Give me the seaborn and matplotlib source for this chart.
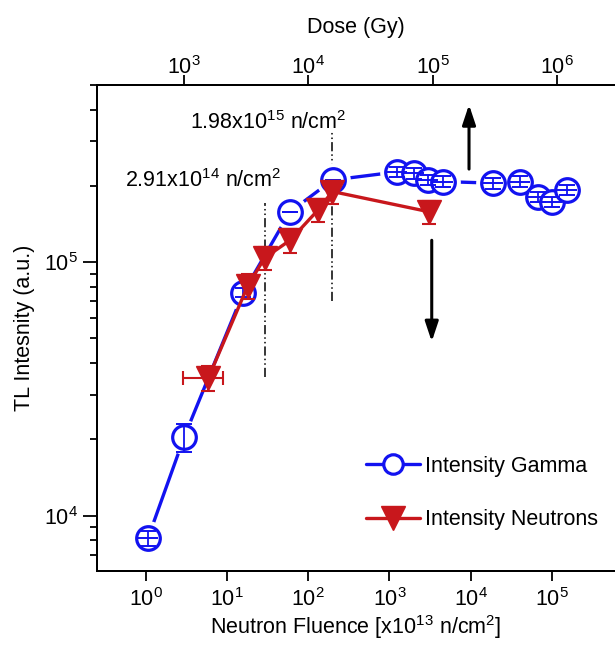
import numpy as np
import pandas as pd
import matplotlib
matplotlib.use("Agg")
import matplotlib.pyplot as plt
import seaborn as sns
from matplotlib.lines import Line2D

# ---------------- data ----------------
gamma_fluence = [1.07, 2.99, 15.9, 59.7, 200, 1227, 2019, 3005, 4596,
                 18950, 40400, 67800, 99200, 151700]
gamma_tl = [8.17e3, 2.05e4, 7.59e4, 1.58e5, 2.11e5, 2.27e5, 2.24e5, 2.11e5,
            2.08e5, 2.05e5, 2.08e5, 1.81e5, 1.73e5, 1.93e5]
gamma_tl_err = [550, 2600, 3000, 0, 0, 1.1e4, 1.1e4, 1.0e4, 1.0e4, 1.0e4,
                1.0e4, 9.0e3, 8.5e3, 9.5e3]

neutron_fluence = [5.9, 18.0, 29.1, 59.7, 133, 198, 3090]
neutron_fluence_err = [3.0, 0, 0, 0, 0, 0, 0]
neutron_tl = [3.49e4, 8.06e4, 1.04e5, 1.22e5, 1.61e5, 1.90e5, 1.58e5]
neutron_tl_err = [4.0e3, 9.0e3, 1.1e4, 1.3e4, 1.7e4, 2.0e4, 1.7e4]

threshold_fluence = [29.1, 198]
threshold_low = [3.54e4, 7.0e4]
threshold_high = [1.71e5, 3.33e5]
threshold_labels = ["2.91x10$^{14}$ n/cm$^{2}$", "1.98x10$^{15}$ n/cm$^{2}$"]

fluence_ticks = [1e0, 1e1, 1e2, 1e3, 1e4, 1e5]
dose_ticks = [1e3, 1e4, 1e5, 1e6]

series_labels = ["Intensity Gamma", "Intensity Neutrons"]
x_label = "Neutron Fluence [x10$^{13}$ n/cm$^{2}$]"
top_label = "Dose (Gy)"
y_label = "TL Intesnity (a.u.)"

BLUE = "#1212F0"
RED = "#C8171C"

# ---------------- style ----------------
sns.set_theme(style="ticks")
plt.rcParams["font.family"] = ["Liberation Sans", "DejaVu Sans"]
plt.rcParams["mathtext.fontset"] = "custom"
plt.rcParams["mathtext.rm"] = "Liberation Sans"
plt.rcParams["mathtext.default"] = "regular"
for k in ["text.color", "axes.labelcolor", "xtick.color", "ytick.color",
          "xtick.labelcolor", "ytick.labelcolor", "axes.edgecolor"]:
    plt.rcParams[k] = "black"
FS = 15.5

fig = plt.figure(figsize=(6.15, 6.47), dpi=100)
ax = fig.add_axes([97 / 615, 1 - 571 / 647, (615 - 97) / 615, (571 - 85) / 647])
ax.set_xscale("log")
ax.set_yscale("log")

gdf = pd.DataFrame({"x": gamma_fluence, "y": gamma_tl})
ndf = pd.DataFrame({"x": neutron_fluence, "y": neutron_tl})

# gamma: line, white halo (gap), markers, error bars
sns.lineplot(data=gdf, x="x", y="y", ax=ax, color=BLUE, lw=2.4,
             sort=False, estimator=None, zorder=2)
ax.plot(gamma_fluence, gamma_tl, ls="none", marker="o", ms=25, mfc="white",
        mec="none", zorder=3)
ax.plot(gamma_fluence, gamma_tl, ls="none", marker="o", ms=17, mfc="white",
        mec=BLUE, mew=2.3, zorder=4)
ax.errorbar(gamma_fluence, gamma_tl, yerr=gamma_tl_err, fmt="none",
            ecolor=BLUE, elinewidth=1.3, capsize=5.5, capthick=1.4, zorder=4.5)
inner = [i for i, e in enumerate(gamma_tl_err) if e > 0 and i != 1 and i != 2]
ax.plot([gamma_fluence[i] for i in inner], [gamma_tl[i] for i in inner],
        ls="none", marker="_", ms=15, mew=1.4, color=BLUE, zorder=4.6)

# neutrons
sns.lineplot(data=ndf, x="x", y="y", ax=ax, color=RED, lw=2.4,
             sort=False, estimator=None, zorder=5)
ax.errorbar(neutron_fluence, neutron_tl, xerr=neutron_fluence_err,
            yerr=neutron_tl_err, fmt="none", ecolor=RED, elinewidth=1.5,
            capsize=5, capthick=1.5, zorder=5.5)
ax.plot(neutron_fluence, neutron_tl, ls="none", marker="v", ms=17.5,
        mfc=RED, mec=RED, mew=1, zorder=6)

# threshold lines & labels
for xv, lo, hi in zip(threshold_fluence, threshold_low, threshold_high):
    ax.plot([xv, xv], [lo, hi], color="black", lw=1.1,
            ls=(0, (6, 2, 1, 2, 1, 2)), zorder=1)
ax.text(0.556, 2.09e5, threshold_labels[0], fontsize=FS, ha="left",
        va="center", color="black")
ax.text(3.51, 3.55e5, threshold_labels[1], fontsize=FS, ha="left",
        va="center", color="black")

# arrows
arrow_kw = dict(arrowstyle="-|>,head_length=0.6,head_width=0.2",
                color="black", lw=2.2, mutation_scale=20, shrinkA=0, shrinkB=0)
ax.annotate("", xy=(9520, 4.18e5), xytext=(9520, 2.33e5), arrowprops=arrow_kw)
ax.annotate("", xy=(3311, 4.86e4), xytext=(3311, 1.22e5), arrowprops=arrow_kw)

# axes limits / ticks
ax.set_xlim(10 ** -0.599, 10 ** 5.775)
ax.set_ylim(6.05e3, 5.0e5)
ax.set_xlabel(x_label, fontsize=FS, labelpad=2)
ax.set_ylabel(y_label, fontsize=FS, labelpad=6)
ax.xaxis.set_major_locator(matplotlib.ticker.FixedLocator(fluence_ticks))
ax.xaxis.set_minor_locator(matplotlib.ticker.NullLocator())
ax.yaxis.set_major_locator(matplotlib.ticker.FixedLocator([1e4, 1e5]))
ax.yaxis.set_minor_formatter(matplotlib.ticker.NullFormatter())
ax.tick_params(axis="x", which="major", direction="out", length=7, width=1.3,
               labelsize=FS, pad=5, color="black")
ax.tick_params(axis="y", which="major", direction="out", length=10, width=1.3,
               labelsize=FS, pad=4)
ax.tick_params(axis="y", which="minor", direction="out", length=5, width=1.3)
for s in ["left", "bottom", "top"]:
    ax.spines[s].set_linewidth(1.4)
    ax.spines[s].set_color("black")
ax.spines["right"].set_visible(False)

# top dose axis
ax2 = ax.twiny()
ax2.set_xscale("log")
ax2.set_xlim(10 ** 2.297, 10 ** 6.468)
ax2.xaxis.set_major_locator(matplotlib.ticker.FixedLocator(dose_ticks))
ax2.xaxis.set_minor_locator(matplotlib.ticker.NullLocator())
ax2.tick_params(axis="x", which="major", direction="out", length=7, width=1.3,
                labelsize=FS, pad=-3)
ax2.set_xlabel(top_label, fontsize=FS, labelpad=17)
ax2.spines["top"].set_linewidth(1.4)
ax2.spines["right"].set_visible(False)

# legend
handles = [
    Line2D([], [], color=BLUE, lw=2.4, marker="o", ms=14, mfc="white",
           mec=BLUE, mew=2.3),
    Line2D([], [], color=RED, lw=2.4, marker="v", ms=17, mfc=RED, mec=RED),
]
ax.legend(handles, series_labels, loc="upper left",
          bbox_to_anchor=(366 / 615, 1 - 456 / 647),
          bbox_transform=fig.transFigure, frameon=False, fontsize=FS,
          handlelength=2.5, handletextpad=0.25, labelspacing=1.5,
          borderpad=0, borderaxespad=0)

fig.savefig("out.png", dpi=100)
